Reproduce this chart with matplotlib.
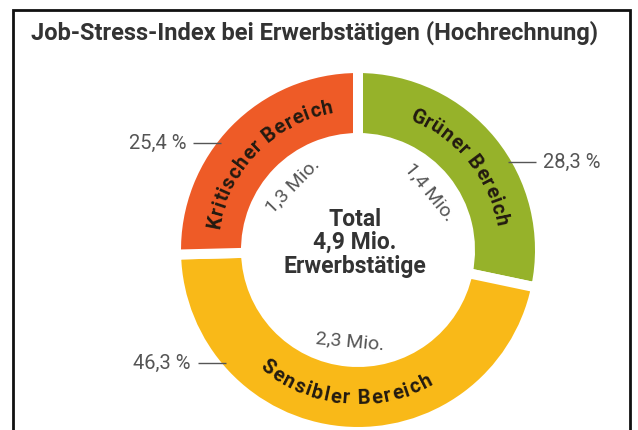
import numpy as np
import matplotlib
matplotlib.use("Agg")
import matplotlib.pyplot as plt
from matplotlib.font_manager import FontProperties
from matplotlib.textpath import TextPath

# data (clockwise from 12 o'clock)
areas = ["Grüner Bereich", "Sensibler Bereich", "Kritischer Bereich"]
shares = [28.3, 46.3, 25.4]          # percent
millions = [1.4, 2.3, 1.3]           # Mio. Erwerbstätige
total_mio = 4.9
colors = ["#96B22A", "#F9B918", "#EE5B27"]

title = "Job-Stress-Index bei Erwerbstätigen (Hochrechnung)"

FONT = "Roboto"
DPI = 100
W, H = 638, 430

# layout in pixels (y measured upward)
CX, CY = 358, H - 250
R_OUT, R_IN = 177, 117
GAP = 10
label_angles = [29.8, 219.7, 142.8]   # where the % leader lines touch the ring


def fmt(v, nd=1):
    return f"{v:.{nd}f}".replace(".", ",")


def arc_text(ax, s, theta_mid, r_mid, top, size, color, track=1.2):
    prop = FontProperties(family=FONT, weight="bold", size=size)

    def width(t):
        return TextPath((0, 0), t, prop=prop).get_extents().width * DPI / 72

    base = width("II")
    adv = [width("I" + c + "I") - base + track for c in s]
    cap = TextPath((0, 0), "H", prop=prop).get_extents().height * DPI / 72
    r = r_mid - cap / 2 if top else r_mid + cap / 2
    span = sum(adv) / r_mid
    t0 = np.radians(theta_mid)
    pos = 0.0
    for c, a in zip(s, adv):
        d = (pos + a / 2) / r_mid
        if top:
            th = t0 + span / 2 - d
            rot = np.degrees(th) - 90
        else:
            th = t0 - span / 2 + d
            rot = np.degrees(th) + 90
        ax.text(CX + r * np.cos(th), CY + r * np.sin(th), c,
                rotation=rot, rotation_mode="anchor", ha="center", va="baseline",
                fontproperties=prop, color=color)
        pos += a


fig = plt.figure(figsize=(W / DPI, H / DPI), dpi=DPI)
ax = fig.add_axes([0, 0, 1, 1])

wedges, _ = ax.pie(shares, colors=colors, startangle=90, counterclock=False,
                   radius=R_OUT + GAP / 2, center=(CX, CY),
                   wedgeprops=dict(width=R_OUT - R_IN + GAP, edgecolor="white",
                                   linewidth=GAP * 72 / DPI))
ax.set_xlim(0, W)
ax.set_ylim(0, H)
ax.set_aspect("equal")
ax.axis("off")

# mid angles of the slices
bounds = 90 - np.cumsum([0] + shares) * 3.6
mids = (bounds[:-1] + bounds[1:]) / 2

r_text = (R_OUT + R_IN) / 2
for name, mid in zip(areas, mids):
    top = np.sin(np.radians(mid)) > 0
    arc_text(ax, name, mid, r_text, top, 14.5, "#231a10")

# Mio. labels inside the ring
for m, mid in zip(millions, mids):
    th = np.radians(mid)
    top = np.sin(th) > 0
    rot = mid - 90 if top else mid + 90
    rot = (rot + 180) % 360 - 180
    ax.text(CX + 92 * np.cos(th), CY + 92 * np.sin(th), f"{fmt(m)} Mio.",
            rotation=rot, rotation_mode="anchor", ha="center", va="center",
            family=FONT, fontsize=14, color="#555555")

# percent labels with leader lines
for v, a in zip(shares, label_angles):
    th = np.radians(a)
    px, py = CX + R_OUT * np.cos(th), CY + R_OUT * np.sin(th)
    side = 1 if np.cos(th) > 0 else -1
    x0, x1 = px - 4 * side, px + 24 * side
    ax.plot([x0, x1], [py, py], color="#555555", lw=1.0, solid_capstyle="butt")
    ax.text(x1 + 7 * side, py, f"{fmt(v)} %", ha="left" if side > 0 else "right",
            va="center", family=FONT, fontsize=14.5, color="#555555")

# centre text
for dy, line in [(31, "Total"), (8, f"{fmt(total_mio)} Mio."), (-16, "Erwerbstätige")]:
    ax.text(CX - 3, CY + dy, line, ha="center", va="center", family=FONT,
            fontweight="bold", fontsize=16.5, color="#333333")

# title and frame
ax.text(31, H - 33, title, ha="left", va="center", family=FONT,
        fontweight="bold", fontsize=17, color="#333333")
ax.plot([13, 13, 630, 630], [0, H - 10, H - 10, 0], color="#111111", lw=2,
        solid_joinstyle="miter", clip_on=False)

fig.savefig("out.png", dpi=DPI)
